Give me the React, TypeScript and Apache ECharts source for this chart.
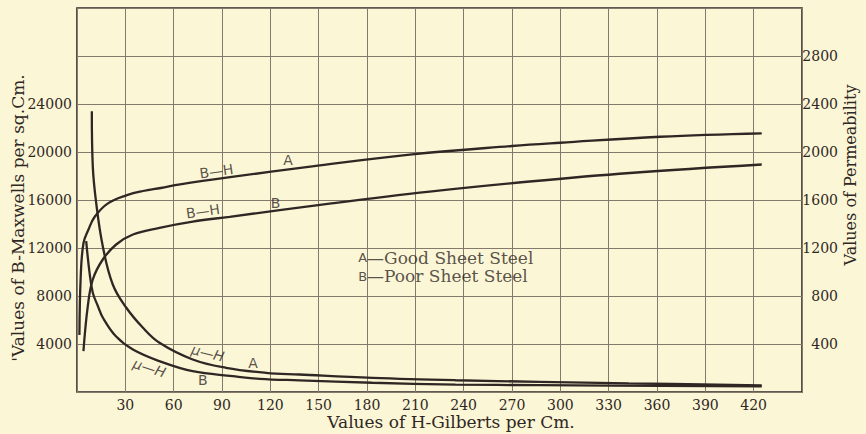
import React, { useEffect, useRef } from "react";
import * as echarts from "echarts";

// H (Gilberts per cm) vs B (Maxwells per sq. cm)
const bhA: [number, number][] = [
  [1.5, 4750], [2.3, 9600], [4, 12400], [7, 13500], [11, 14600], [19, 15700],
  [31, 16400], [41, 16750], [52, 17000], [64, 17300], [95, 17900], [146, 18800],
  [208, 19800], [270, 20500], [300, 20770], [362, 21270], [425, 21550],
];
const bhB: [number, number][] = [
  [4, 3400], [6.7, 7150], [9.8, 9375], [16, 11042], [24.3, 12292], [34.7, 13125],
  [51.2, 13683], [71.9, 14200], [94.7, 14600], [156.8, 15700], [218.9, 16700],
  [281, 17540], [343.2, 18250], [425, 18958],
];
// H vs permeability
const muA: [number, number][] = [
  [9.2, 2340], [9.8, 1880], [11.9, 1577], [16, 1215], [22.2, 896], [30.5, 704],
  [40.8, 537], [51.2, 410], [71.8, 271], [92.5, 202], [117.3, 160], [138, 146],
  [183.5, 118], [235, 98], [287, 85], [342.5, 72], [425, 56],
];
const muB: [number, number][] = [
  [5.7, 1257], [7.8, 993], [9.8, 827], [13, 715], [16, 621], [24.3, 462],
  [34.7, 354], [51.2, 257], [71.8, 173], [96.7, 132], [113.3, 110], [138, 97],
  [183.3, 77], [235, 62], [287, 57], [425, 48],
];

const xTicks = [30, 60, 90, 120, 150, 180, 210, 240, 270, 300, 330, 360, 390, 420];
const leftTicks = [4000, 8000, 12000, 16000, 20000, 24000];
const rightTicks = [400, 800, 1200, 1600, 2000, 2400, 2800];

const xTitle = "Values of H-Gilberts per Cm.";
const leftTitle = "'Values of B-Maxwells per sq.Cm.";
const rightTitle = "Values of Permeability";

// curve annotations, in (H, B) data units
const curveLabels: { text: string; at: [number, number]; rot: number; kind: string }[] = [
  { text: "B—H", at: [86.5, 18400], rot: 8, kind: "sans" },
  { text: "A", at: [131, 19317], rot: 0, kind: "sans" },
  { text: "B—H", at: [78.1, 15067], rot: 8, kind: "sans" },
  { text: "B", at: [123.3, 15767], rot: 0, kind: "sans" },
  { text: "μ—H", at: [81.2, 3250], rot: -14, kind: "italic" },
  { text: "A", at: [109.2, 2433], rot: 0, kind: "sans" },
  { text: "μ—H", at: [45, 2017], rot: -18, kind: "italic" },
  { text: "B", at: [78.1, 983], rot: 0, kind: "sans" },
];
const keyLines: { letter: string; text: string; at: [number, number] }[] = [
  { letter: "A", text: "—Good Sheet Steel", at: [174.2, 11183] },
  { letter: "B", text: "—Poor Sheet Steel", at: [174.2, 9650] },
];

const INK = "#2f2724";
const GRIDC = "#85796c";
const BG = "#fbf6d6";
const SERIF = "DejaVu Serif";

export default function App() {
  const ref = useRef<HTMLDivElement>(null);
  useEffect(() => {
    if (!ref.current) return;
    const chart = echarts.init(ref.current, undefined, { renderer: "svg" });
    const lineSeries = (data: [number, number][], yAxisIndex: number) => ({
      type: "line",
      data,
      yAxisIndex,
      showSymbol: false,
      smooth: 0.4,
      lineStyle: { color: INK, width: 2.3 },
      silent: true,
    });
    const annData: any[] = curveLabels.map((l) => ({
      value: l.at,
      label: {
        show: true,
        position: "inside",
        formatter: l.text,
        rotate: l.rot,
        color: INK,
        fontFamily: "DejaVu Sans",
        fontStyle: l.kind === "italic" ? "italic" : "normal",
        fontSize: 14,
      },
    }));
    keyLines.forEach((k) =>
      annData.push({
        value: k.at,
        label: {
          show: true,
          position: "right",
          distance: 0,
          formatter: `{a|${k.letter}}{b|${k.text}}`,
          rich: {
            a: { fontFamily: "DejaVu Sans", fontSize: 13, color: INK },
            b: { fontFamily: SERIF, fontSize: 17, color: INK },
          },
        },
      })
    );
    const tickLabel = (ticks: number[]) => ({
      color: INK,
      fontFamily: SERIF,
      fontSize: 14,
      formatter: (v: number) => (ticks.includes(v) ? String(v) : ""),
    });
    chart.setOption({
      animation: false,
      backgroundColor: BG,
      grid: {
        left: 77,
        right: 64,
        top: 8,
        bottom: 42,
        show: true,
        borderColor: INK,
        borderWidth: 1.6,
        backgroundColor: "transparent",
      },
      xAxis: {
        type: "value",
        min: 0,
        max: 450,
        interval: 30,
        axisLine: { show: false },
        axisTick: { show: false },
        splitLine: { show: true, lineStyle: { color: GRIDC, width: 1 } },
        axisLabel: { margin: 6, ...tickLabel(xTicks) },
      },
      yAxis: [
        {
          type: "value",
          min: 0,
          max: 32000,
          interval: 4000,
          axisLine: { show: false },
          axisTick: { show: false },
          splitLine: { show: true, lineStyle: { color: GRIDC, width: 1 } },
          axisLabel: { margin: 5, ...tickLabel(leftTicks) },
        },
        {
          type: "value",
          position: "right",
          min: 0,
          max: 3200,
          interval: 400,
          axisLine: { show: false },
          axisTick: { show: false },
          splitLine: { show: false },
          axisLabel: {
            margin: 36,
            align: "right",
            padding: [0, 0, 8, 0],
            ...tickLabel(rightTicks),
          },
        },
      ],
      series: [
        lineSeries(bhA, 0),
        lineSeries(bhB, 0),
        lineSeries(muA, 1),
        lineSeries(muB, 1),
        {
          type: "scatter",
          yAxisIndex: 0,
          symbol: "circle",
          symbolSize: 1,
          itemStyle: { color: "transparent" },
          silent: true,
          data: annData,
        },
      ],
      graphic: [
        {
          type: "text",
          x: 451,
          y: 422,
          style: {
            text: xTitle,
            align: "center",
            verticalAlign: "middle",
            fill: INK,
            font: `17px "${SERIF}"`,
          },
        },
        {
          type: "text",
          x: 18,
          y: 218,
          rotation: Math.PI / 2,
          style: {
            text: leftTitle,
            align: "center",
            verticalAlign: "middle",
            fill: INK,
            font: `17px "${SERIF}"`,
          },
        },
        {
          type: "text",
          x: 850,
          y: 175,
          rotation: Math.PI / 2,
          style: {
            text: rightTitle,
            align: "center",
            verticalAlign: "middle",
            fill: INK,
            font: `16px "${SERIF}"`,
          },
        },
      ],
    });
    return () => chart.dispose();
  }, []);
  return (
    <div
      ref={ref}
      style={{ position: "fixed", left: 0, top: 0, width: 866, height: 434, background: BG }}
    />
  );
}
